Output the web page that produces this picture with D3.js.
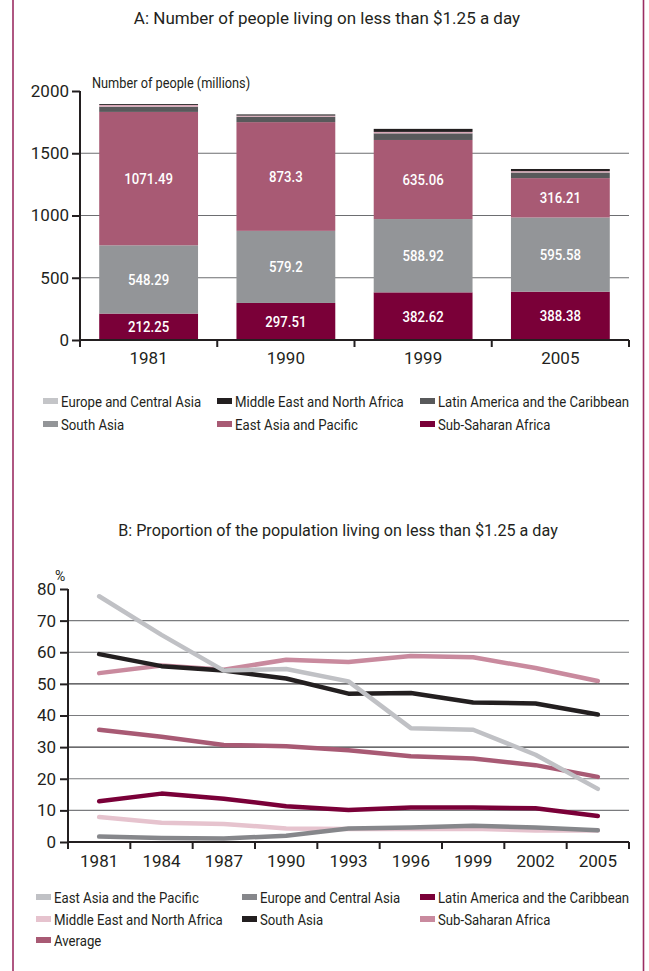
<!DOCTYPE html>
<html><head><meta charset="utf-8">
<script src="https://cdn.jsdelivr.net/npm/d3@7"></script>
<style>
body{margin:0;background:#fff;}
svg text{font-family:Roboto,"Liberation Sans",sans-serif;fill:#231f20;}
</style></head><body>
<svg id="c" width="649" height="971"></svg>
<script>
// ---------- Data: chart A ----------
const barYears = ["1981","1990","1999","2005"];
const subSaharanAfrica = [212.25, 297.51, 382.62, 388.38];
const southAsia = [548.29, 579.2, 588.92, 595.58];
const eastAsiaPacific = [1071.49, 873.3, 635.06, 316.21];
const latinAmerica = [42.0, 42.9, 53.4, 45.1];
const middleEastNA = [13.7, 9.7, 11.5, 11.0];
const europeCentralAsia = [7.1, 9.1, 24.3, 17.3];
const barTicks = [0, 500, 1000, 1500, 2000];

// ---------- Data: chart B ----------
const lineYears = ["1981","1984","1987","1990","1993","1996","1999","2002","2005"];
const eapPct = [77.7, 65.5, 54.2, 54.7, 50.8, 36.0, 35.5, 27.6, 16.8];
const ecaPct = [1.7, 1.3, 1.1, 2.0, 4.3, 4.6, 5.1, 4.6, 3.7];
const lacPct = [12.9, 15.3, 13.7, 11.3, 10.1, 10.9, 10.9, 10.7, 8.2];
const mnaPct = [7.9, 6.1, 5.7, 4.3, 4.1, 4.1, 4.2, 3.6, 3.6];
const saPct = [59.4, 55.6, 54.2, 51.7, 46.9, 47.1, 44.1, 43.8, 40.3];
const ssaPct = [53.4, 55.8, 54.5, 57.6, 56.9, 58.8, 58.4, 55.0, 50.9];
const avgPct = [35.5, 33.3, 30.7, 30.3, 29.0, 27.1, 26.4, 24.3, 20.6];
const lineTicks = [0,10,20,30,40,50,60,70,80];

const svg = d3.select("#c");

// condensed look: squeeze text horizontally around its anchor
function squeeze(sel, k){
  sel.each(function(){
    const t=d3.select(this);
    const x=+t.attr("x")||0, y=+t.attr("y")||0;
    t.attr("transform",`translate(${x},${y}) scale(${k},1) translate(${-x},${-y})`);
  });
}

// page border lines
svg.append("line").attr("x1",13).attr("x2",13).attr("y1",0).attr("y2",971).attr("stroke","#9b2d63").attr("stroke-width",1.6);
svg.append("line").attr("x1",643.5).attr("x2",643.5).attr("y1",0).attr("y2",971).attr("stroke","#9b2d63").attr("stroke-width",1.6);

// ================= Chart A =================
const barSeries = [
  {key:"Sub-Saharan Africa", values:subSaharanAfrica, color:"#7a0038", label:true},
  {key:"South Asia", values:southAsia, color:"#939598", label:true},
  {key:"East Asia and Pacific", values:eastAsiaPacific, color:"#a85a74", label:true},
  {key:"Latin America and the Caribbean", values:latinAmerica, color:"#58595b"},
  {key:"Middle East and North Africa", values:middleEastNA, color:"#d8a6b6"},
  {key:"Europe and Central Asia", values:europeCentralAsia, color:"#231f20"}
];
const tableA = barYears.map((y,i)=>{const o={year:y}; barSeries.forEach(s=>o[s.key]=s.values[i]); return o;});
const stackA = d3.stack().keys(barSeries.map(s=>s.key))(tableA);

const xA = d3.scaleBand().domain(barYears).range([80,629]).paddingInner(0.28).paddingOuter(0.14);
const yA = d3.scaleLinear().domain([0,2000]).range([340,91]);

svg.append("text").attr("x",327).attr("y",24).attr("text-anchor","middle").attr("font-size",17)
  .text("A: Number of people living on less than $1.25 a day");

// gridlines
svg.append("g").selectAll("line").data(barTicks.filter(t=>t>0&&t<2000)).join("line")
  .attr("x1",80).attr("x2",629).attr("y1",d=>yA(d)).attr("y2",d=>yA(d))
  .attr("stroke","#6d6e71").attr("stroke-width",1.2);

// bars
const gA = svg.append("g");
stackA.forEach((layer,li)=>{
  gA.selectAll(null).data(layer).join("rect")
    .attr("x",d=>xA(d.data.year)).attr("width",xA.bandwidth())
    .attr("y",d=>yA(d[1])).attr("height",d=>yA(d[0])-yA(d[1]))
    .attr("fill",barSeries[li].color);
  if(barSeries[li].label){
    gA.selectAll(null).data(layer).join("text")
      .attr("x",d=>xA(d.data.year)+xA.bandwidth()/2)
      .attr("y",d=>(yA(d[0])+yA(d[1]))/2+5.5)
      .attr("text-anchor","middle").attr("font-size",15.5).attr("font-weight",500).style("fill","#fff")
      .text(d=>d.data[barSeries[li].key]).call(squeeze,0.85);
  }
});

// y axis A
const yAxisA = d3.axisLeft(yA).tickValues(barTicks).tickFormat(d3.format("d")).tickSize(8).tickPadding(3);
const gyA = svg.append("g").attr("transform","translate(80,0)").call(yAxisA);
gyA.select(".domain").attr("stroke","#231f20").attr("stroke-width",2).attr("d","M0,"+yA(2000)+"V"+yA(0));
gyA.selectAll(".tick line").attr("stroke","#231f20").attr("stroke-width",2);
gyA.selectAll(".tick text").attr("font-size",17).style("fill","#231f20").attr("font-family",null);
// x axis A
const xAxisA = d3.axisBottom(xA).tickSize(0).tickPadding(12);
const gxA = svg.append("g").attr("transform","translate(0,340)").call(xAxisA);
gxA.select(".domain").attr("stroke","#231f20").attr("stroke-width",2).attr("d","M80,0H629");
gxA.selectAll(".tick text").attr("font-size",17).style("fill","#231f20").attr("font-family",null);
const bAbound = barYears.map(y=>xA(y)-xA.step()*xA.paddingInner()/2).concat([629]);
bAbound[0]=80;
gxA.selectAll(".bt").data(bAbound).join("line").attr("x1",d=>d).attr("x2",d=>d).attr("y1",0).attr("y2",7).attr("stroke","#231f20").attr("stroke-width",2);

svg.append("text").attr("x",92).attr("y",88).attr("font-size",15).text("Number of people (millions)").call(squeeze,0.85);

// legend A
const legendA = [
  {name:"Europe and Central Asia", color:"#c4c5c8", x:43, y:401},
  {name:"Middle East and North Africa", color:"#231f20", x:217, y:401},
  {name:"Latin America and the Caribbean", color:"#58595b", x:420, y:401},
  {name:"South Asia", color:"#939598", x:43, y:424},
  {name:"East Asia and Pacific", color:"#a85a74", x:217, y:424},
  {name:"Sub-Saharan Africa", color:"#7a0038", x:420, y:424}
];
const lgA = svg.append("g").selectAll("g").data(legendA).join("g").attr("transform",d=>`translate(${d.x},${d.y})`);
lgA.append("rect").attr("x",0).attr("y",-3).attr("width",15).attr("height",6).attr("fill",d=>d.color);
lgA.append("text").attr("x",18).attr("y",5.5).attr("font-size",15).text(d=>d.name).call(squeeze,0.88);

// ================= Chart B =================
svg.append("text").attr("x",338).attr("y",536).attr("text-anchor","middle").attr("font-size",17)
  .text("B: Proportion of the population living on less than $1.25 a day").call(squeeze,0.95);

const xB = d3.scaleBand().domain(lineYears).range([68,629]);
const yB = d3.scaleLinear().domain([0,80]).range([842,589]);

svg.append("g").selectAll("line").data(lineTicks.filter(t=>t>0&&t<80)).join("line")
  .attr("x1",68).attr("x2",629).attr("y1",d=>yB(d)).attr("y2",d=>yB(d))
  .attr("stroke",d=>(d===50||d===30)?"#3a3a3c":"#7a7b7e").attr("stroke-width",1.2);

const lineSeries = [
  {name:"Middle East and North Africa", values:mnaPct, color:"#e6c3ce"},
  {name:"Europe and Central Asia", values:ecaPct, color:"#86878b"},
  {name:"Latin America and the Caribbean", values:lacPct, color:"#7a0038"},
  {name:"Average", values:avgPct, color:"#a85a74"},
  {name:"Sub-Saharan Africa", values:ssaPct, color:"#c98a9e"},
  {name:"South Asia", values:saPct, color:"#231f20"},
  {name:"East Asia and the Pacific", values:eapPct, color:"#c0c1c5"}
];
const lineGen = d3.line().x((d,i)=>xB(lineYears[i])+xB.bandwidth()/2).y(d=>yB(d));
svg.append("g").selectAll("path").data(lineSeries).join("path")
  .attr("d",d=>lineGen(d.values)).attr("fill","none").attr("stroke",d=>d.color)
  .attr("stroke-width",4.5).attr("stroke-linecap","round").attr("stroke-linejoin","round");

const yAxisB = d3.axisLeft(yB).tickValues(lineTicks).tickSize(8).tickPadding(4);
const gyB = svg.append("g").attr("transform","translate(68,0)").call(yAxisB);
gyB.select(".domain").attr("stroke","#231f20").attr("stroke-width",2).attr("d","M0,"+yB(80)+"V"+yB(0));
gyB.selectAll(".tick line").attr("stroke","#231f20").attr("stroke-width",2);
gyB.selectAll(".tick text").attr("font-size",17).style("fill","#231f20").attr("font-family",null);

const xAxisB = d3.axisBottom(xB).tickSize(0).tickPadding(13);
const gxB = svg.append("g").attr("transform","translate(0,842)").call(xAxisB);
gxB.select(".domain").attr("stroke","#231f20").attr("stroke-width",2).attr("d","M68,0H629");
gxB.selectAll(".tick text").attr("font-size",17).style("fill","#231f20").attr("font-family",null);
const bBbound = lineYears.map(y=>xB(y)).concat([629]);
gxB.selectAll(".bt").data(bBbound).join("line").attr("x1",d=>d).attr("x2",d=>d).attr("y1",0).attr("y2",7).attr("stroke","#231f20").attr("stroke-width",2);

svg.append("text").attr("x",55).attr("y",581).attr("font-size",14).text("%");

const legendB = [
  {name:"East Asia and the Pacific", color:"#c0c1c5", x:36, y:897},
  {name:"Europe and Central Asia", color:"#86878b", x:242, y:897},
  {name:"Latin America and the Caribbean", color:"#7a0038", x:420, y:897},
  {name:"Middle East and North Africa", color:"#e6c3ce", x:36, y:919},
  {name:"South Asia", color:"#231f20", x:242, y:919},
  {name:"Sub-Saharan Africa", color:"#c98a9e", x:420, y:919},
  {name:"Average", color:"#a85a74", x:36, y:940}
];
const lgB = svg.append("g").selectAll("g").data(legendB).join("g").attr("transform",d=>`translate(${d.x},${d.y})`);
lgB.append("rect").attr("x",0).attr("y",-3).attr("width",15).attr("height",6).attr("fill",d=>d.color);
lgB.append("text").attr("x",18).attr("y",5.5).attr("font-size",15).text(d=>d.name).call(squeeze,0.88);
</script>
</body></html>
